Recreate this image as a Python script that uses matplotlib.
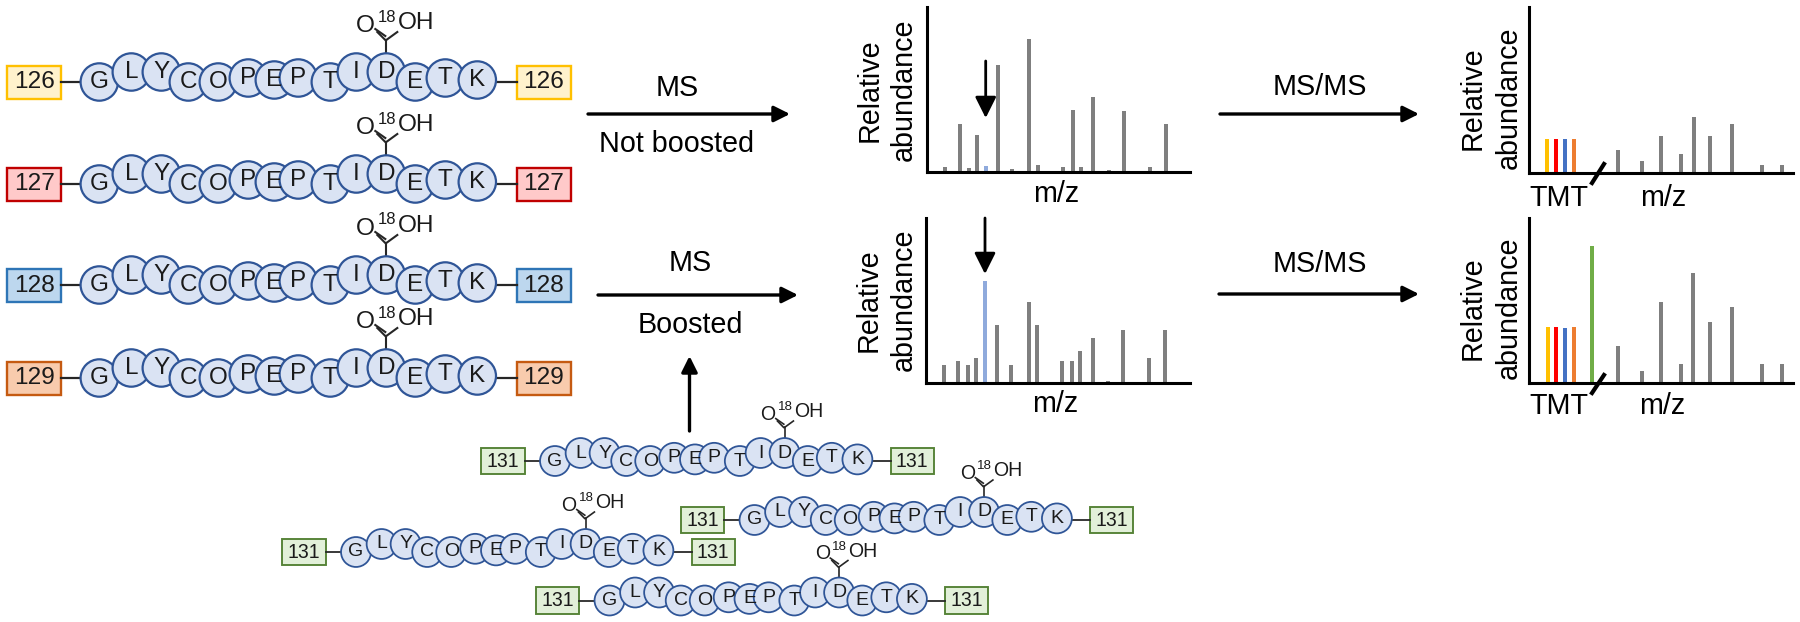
import matplotlib
matplotlib.use('Agg')
import matplotlib.pyplot as plt
from matplotlib.patches import Circle, Rectangle

plt.rcParams['font.family'] = ['Liberation Sans', 'DejaVu Sans']

W, H = 1800, 622

# spectra: x position (arbitrary m/z units), height (arbitrary abundance)
ms1_mz = [18.3, 32.7, 41.7, 50, 59.3, 70.7, 85.3, 102.3, 111, 135.7, 146.3, 154, 166.3, 181.7, 197, 222.7, 239.3]
ms1_h = [4.7, 48.3, 4, 36.7, 5.7, 107, 2.7, 133, 6.7, 4.7, 61.7, 4.7, 75.3, 1.7, 61.3, 4.7, 48.3]
ms2_mz = [18.3, 32.3, 41.7, 50.3, 59, 70.7, 85, 102.7, 111.3, 135.7, 146, 154, 166.7, 181.7, 197.3, 223, 239.3]
ms2_h = [17.7, 22.3, 17.7, 25, 102.3, 58.3, 17.7, 80.7, 58.3, 22.3, 22.3, 32, 45.3, 2, 53, 25, 53]
blue_idx = 4

tmt1_mz = [17.7, 27.3, 35.7, 45.3]
tmt1_h = [33.7, 33.7, 33.7, 33.7]
frag1_mz = [89, 112.7, 132, 152.3, 164.7, 181.3, 203.3, 232.7, 252.7]
frag1_h = [22.7, 11.7, 37, 18.7, 55.7, 37, 48.7, 8, 8]

tmt2_mz = [18.7, 27.3, 36, 44.7, 62.7]
tmt2_h = [55.7, 56, 55, 55.7, 137.3]
frag2_mz = [89, 112.7, 131.7, 152.3, 164.3, 180.7, 203.3, 232.7, 252.7]
frag2_h = [37.3, 12, 81, 18.7, 110, 60.7, 76, 18.7, 18.7]

tmt_colors = ['#ffc000', '#ff0000', '#4472c4', '#ed7d31', '#70ad47']

letters = list('GLYCOPEPTIDETK')
dx = [0, 32, 62, 89, 119, 149, 175, 199, 231, 257, 287, 316, 346, 378]
dy = [0, -10, -10, 0, 0, -4, -2, -4, 0, -10, -10, 0, -4, -2]

fig = plt.figure(figsize=(W / 100, H / 100), dpi=100)
ax = fig.add_axes([0, 0, 1, 1])
ax.set_xlim(0, W)
ax.set_ylim(H, 0)
ax.axis('off')

ink = '#1a1a1a'


def peptide(x0, y0, label, face, edge, s=1.0, right_off=417.5, lift=0):
    # x0,y0 = centre of the G circle
    r = 18.7 * s
    bw, bh = 54 * s, 33 * s
    left = x0 - 92 * s
    right = x0 + right_off * s
    ax.plot([left + bw, x0 - r], [y0, y0], color='#262626', lw=1.6 * s)
    ax.plot([x0 + dx[-1] * s + r, right], [y0, y0], color='#262626', lw=1.6 * s)
    for bx in (left, right):
        ax.add_patch(Rectangle((bx, y0 - bh / 2), bw, bh, fc=face, ec=edge, lw=1.7 * s))
        ax.text(bx + bw / 2, y0 + 0.5, label, fontsize=17.6 * s, ha='center', va='center', color=ink)
    for i, ch in enumerate(letters):
        cx, cy = x0 + dx[i] * s, y0 + dy[i] * s
        ax.add_patch(Circle((cx, cy), r, fc='#dae3f3', ec='#2f5597', lw=1.6 * s, zorder=3))
        ax.text(cx, cy, ch, fontsize=17.5 * s, ha='center', va='center', color=ink, zorder=5)
    # carboxyl on the D
    cx = x0 + dx[10] * s
    ytop = y0 + (dy[10] - 18.7) * s
    yc = y0 - 42 * s
    ax.plot([cx, cx], [ytop, yc], color='#262626', lw=1.5 * s)
    ax.plot([cx, cx + 11 * s], [yc, yc - 8 * s], color='#262626', lw=1.5 * s)
    ax.plot([cx - 1, cx - 9 * s], [yc, yc - 8 * s], color='#262626', lw=1.5 * s)
    ax.plot([cx - 1 * s, cx - 11 * s], [yc - 4 * s, yc - 11 * s], color='#262626', lw=1.5 * s)
    ax.text(cx - 21 * s, y0 - 56 * s - lift, 'O', fontsize=17.6 * s, ha='center', va='center', color=ink)
    ax.text(cx + 1 * s, y0 - 65 * s - lift, '18', fontsize=12 * s, ha='center', va='center', color=ink)
    ax.text(cx + 30 * s, y0 - 59 * s - lift, 'OH', fontsize=17.6 * s, ha='center', va='center', color=ink)


peptide(99.3, 82, '126', '#fff2cc', '#ffc000')
peptide(99.3, 184, '127', '#ffc9c9', '#c00000')
peptide(99.3, 285, '128', '#bdd7ee', '#2e75b6')
peptide(99.3, 378, '129', '#f8cbad', '#c55a11')

green = ('131', '#e2f0d9', '#548235')
peptide(555, 461, *green, s=0.8, right_off=419.6, lift=2)
peptide(754.5, 520, *green, s=0.8, right_off=419.6, lift=2)
peptide(356, 552, *green, s=0.8, right_off=419.6, lift=2)
peptide(609.5, 600.5, *green, s=0.8, right_off=419.6, lift=2)


def big_arrow(x0, y0, x1, y1, lw=2.4, ms=24):
    ax.annotate('', xy=(x1, y1), xytext=(x0, y0),
                arrowprops=dict(arrowstyle='-|>', color='black', lw=lw, mutation_scale=ms,
                                shrinkA=0, shrinkB=0))


big_arrow(588, 114, 790, 114)
big_arrow(598, 295, 798, 295)
big_arrow(1220, 114, 1419, 114)
big_arrow(1219, 294, 1419, 294)
big_arrow(689.5, 431, 689.5, 356)
big_arrow(985.7, 61, 985.7, 118, lw=2, ms=32)
big_arrow(985, 218, 985, 274, lw=2, ms=32)

ts = 20.7
ax.text(677, 88, 'MS', fontsize=ts, ha='center', va='center')
ax.text(677, 143.5, 'Not boosted', fontsize=ts, ha='center', va='center')
ax.text(690, 263, 'MS', fontsize=ts, ha='center', va='center')
ax.text(690, 325, 'Boosted', fontsize=ts, ha='center', va='center')
ax.text(1320, 87, 'MS/MS', fontsize=ts, ha='center', va='center')
ax.text(1320, 264, 'MS/MS', fontsize=ts, ha='center', va='center')


def spectrum(left, top, right, bottom, xvals, hvals, colors):
    a = fig.add_axes([left / W, 1 - bottom / H, (right - left) / W, (bottom - top) / H])
    a.patch.set_alpha(0)
    a.bar(xvals, hvals, width=4, color=colors, linewidth=0)
    a.set_xlim(0, right - left)
    a.set_ylim(0, bottom - top)
    a.set_xticks([])
    a.set_yticks([])
    a.spines['top'].set_visible(False)
    a.spines['right'].set_visible(False)
    a.spines['left'].set_linewidth(2.2)
    a.spines['bottom'].set_linewidth(2.2)
    return a


c1 = ['#7f7f7f'] * len(ms1_mz)
c1[blue_idx] = '#8faadc'
c2 = ['#7f7f7f'] * len(ms2_mz)
c2[blue_idx] = '#8faadc'
spectrum(927, 7, 1190, 172, ms1_mz, ms1_h, c1)
spectrum(926, 218, 1190, 383, ms2_mz, ms2_h, c2)
spectrum(1529, 7, 1793, 173, tmt1_mz + frag1_mz, tmt1_h + frag1_h, tmt_colors[:4] + ['#7f7f7f'] * 9)
spectrum(1529, 218, 1793, 383, tmt2_mz + frag2_mz, tmt2_h + frag2_h, tmt_colors + ['#7f7f7f'] * 9)

for x1, x2, y in [(870, 904, 90), (869, 904, 300), (1473, 1509, 98), (1473, 1509, 308)]:
    ax.text(x1, y, 'Relative', fontsize=ts, rotation=90, ha='center', va='center')
    ax.text(x2, y, 'abundance', fontsize=ts, rotation=90, ha='center', va='center')

ax.text(1056, 194, 'm/z', fontsize=ts, ha='center', va='center')
ax.text(1055, 404, 'm/z', fontsize=ts, ha='center', va='center')
ax.text(1663, 198, 'm/z', fontsize=ts, ha='center', va='center')
ax.text(1662, 406, 'm/z', fontsize=ts, ha='center', va='center')
ax.text(1559, 198, 'TMT', fontsize=ts, ha='center', va='center')
ax.text(1559, 406, 'TMT', fontsize=ts, ha='center', va='center')

ax.plot([1592, 1604], [183, 164], color='black', lw=3, zorder=10, clip_on=False)
ax.plot([1592, 1604], [393, 375], color='black', lw=3, zorder=10, clip_on=False)

fig.savefig('out.png', dpi=100)
plt.close('all')
